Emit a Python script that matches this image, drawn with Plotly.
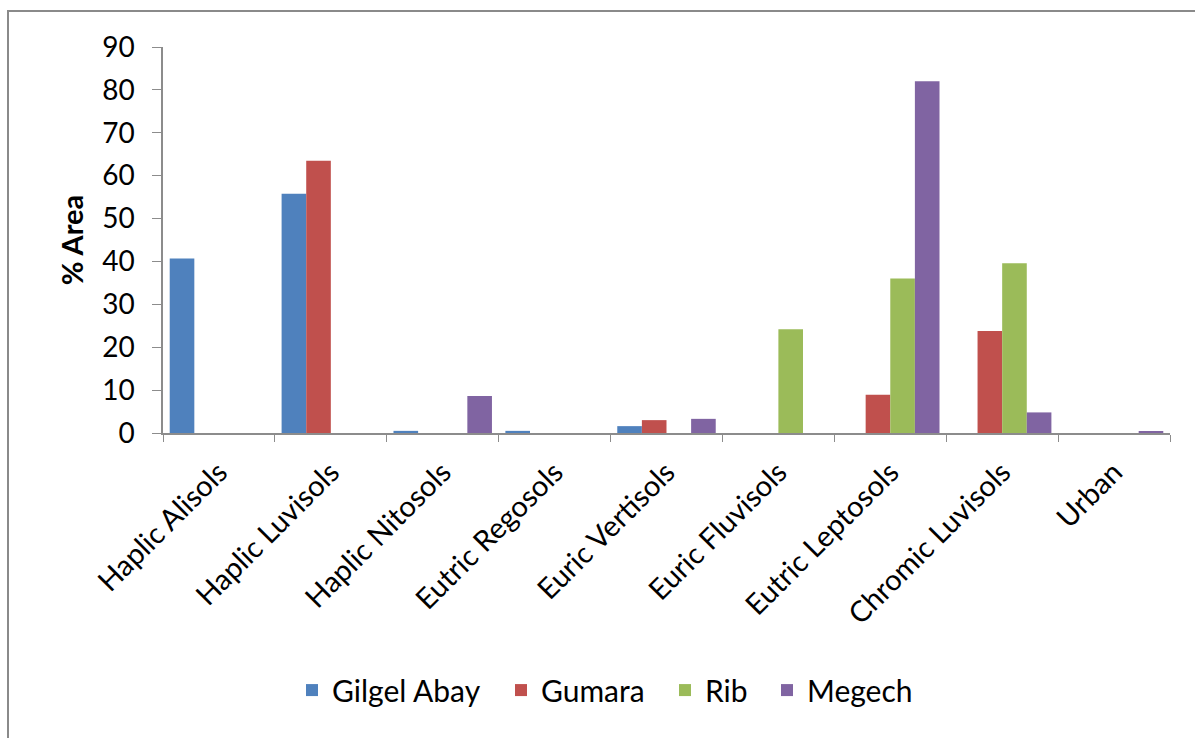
import plotly.graph_objects as go

# Soil classes on the x axis
soil_types = [
    "Haplic Alisols", "Haplic Luvisols", "Haplic Nitosols", "Eutric Regosols",
    "Euric Vertisols", "Euric Fluvisols", "Eutric Leptosols", "Chromic Luvisols", "Urban",
]

# Percent of catchment area per soil class
gilgel_abay = [40.7, 55.8, 0.5, 0.5, 1.6, 0, 0, 0, 0]
gumara = [0, 63.5, 0, 0, 3.0, 0, 8.9, 23.8, 0]
rib = [0, 0, 0, 0, 0, 24.2, 36.0, 39.6, 0]
megech = [0, 0, 8.6, 0, 3.3, 0, 82.0, 4.8, 0.4]

series = [
    ("Gilgel Abay", gilgel_abay, "#4F81BD"),
    ("Gumara", gumara, "#C0504D"),
    ("Rib", rib, "#9BBB59"),
    ("Megech", megech, "#8064A2"),
]

y_ticks = [0, 10, 20, 30, 40, 50, 60, 70, 80, 90]

# Plot area in pixels (left margin and width) used to place the legend entries
plot_left, plot_width = 163, 1007
legend_symbol_px = [317, 526, 690, 792]
legend_ids = ["legend", "legend2", "legend3", "legend4"]

fig = go.Figure()
for (name, values, color), lid in zip(series, legend_ids):
    fig.add_trace(go.Bar(
        name=name, x=soil_types, y=values, legend=lid,
        marker=dict(color=color, line=dict(width=0)),
    ))

font_family = "Lato, 'Open Sans', sans-serif"

legend_layouts = {}
for lid, px in zip(legend_ids, legend_symbol_px):
    legend_layouts[lid] = dict(
        orientation="h", x=(px - 25 - plot_left) / plot_width, xanchor="left",
        y=-0.666, yanchor="middle", font=dict(size=30), itemwidth=30,
        bgcolor="rgba(0,0,0,0)",
    )

fig.update_layout(
    width=1195, height=738,
    margin=dict(l=plot_left, r=25, t=47, b=305),
    paper_bgcolor="white", plot_bgcolor="white",
    barmode="group", bargap=0.12, bargroupgap=0,
    font=dict(family=font_family, size=29, color="#000000"),
    showlegend=True,
    xaxis=dict(
        tickangle=-45, tickson="boundaries", ticks="outside", ticklen=7,
        tickcolor="#8c8c8c", showline=True, linecolor="#8c8c8c", linewidth=1.5,
        showgrid=False, tickfont=dict(size=29), ticklabelstandoff=9,
    ),
    yaxis=dict(
        range=[0, 90], tickvals=y_ticks, ticks="outside", ticklen=9,
        tickcolor="#8c8c8c", showline=True, linecolor="#8c8c8c", linewidth=1.5,
        showgrid=False, zeroline=False, tickfont=dict(size=28),
        ticklabelstandoff=12,
        title=dict(text="<b>% Area</b>", font=dict(size=29), standoff=10),
    ),
    shapes=[dict(
        type="rect", xref="paper", yref="paper",
        x0=-155 / plot_width, x1=1.05, y0=-0.9, y1=(433 - 11) / 386,
        line=dict(color="#8a8a8a", width=2), fillcolor="rgba(0,0,0,0)",
    )],
    **legend_layouts,
)

fig.write_html("out.html")
